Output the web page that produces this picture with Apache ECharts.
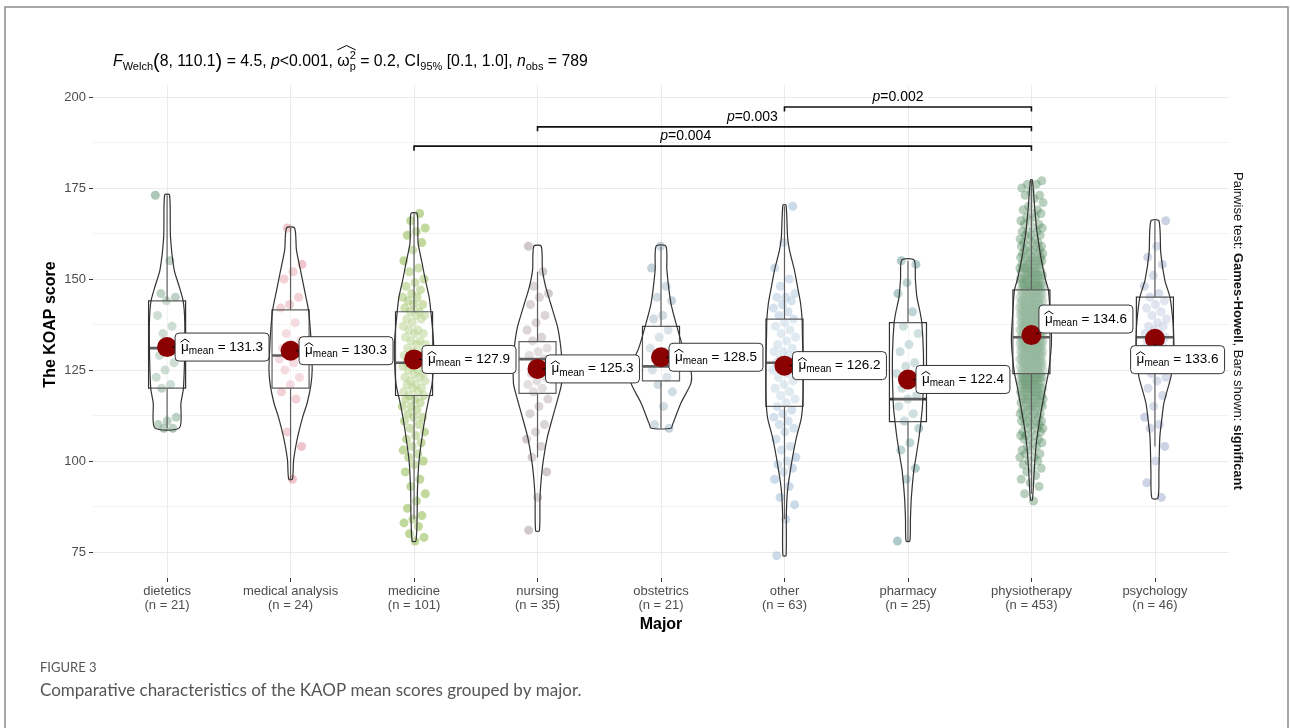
<!DOCTYPE html>
<html><head><meta charset="utf-8">
<script src="https://cdn.jsdelivr.net/npm/echarts@6/dist/echarts.min.js"></script>
<style>html,body{margin:0;padding:0;background:#fff}#c{width:1290px;height:728px}</style>
</head><body><div id="c"></div>
<script>
// ---------------- DATA ----------------
const categories = ['dietetics','medical analysis','medicine','nursing','obstetrics','other','pharmacy','physiotherapy','psychology'];
const groupN = [21,24,101,35,21,63,25,453,46];
const means = [131.3,130.3,127.9,125.3,128.5,126.2,122.4,134.6,133.6];
const q1 = [120,120,118,118.6,122,115,110.8,124,125];
const medians = [131,129,127,128,126,127,117,134,134];
const q3 = [144,141.5,141,132.8,137,139,138,147,145];
const whiskerLow = [109,95,84,101,109,84,78,91,104];
const whiskerHigh = [173,164,168,152,159,170,155,177,166];
const yTicks = [75,100,125,150,175,200];

const dieteticsScores = [173,155,146,145,144,140,137,135,132,131,129,127,125,123,121,120,112,111,110,109,109];
const medicalAnalysisScores = [164,154,152,150,145,143,142,138,135,133,132,131,130,129,128,127,125,123,121,119,117,108,104,95];
const medicineScores = [168,166,164,163,162,160,158,155,153,152,150,149,148,147,146,145,145,144,143,143,
  142,141,141,140,140,139,139,138,137,136,136,135,135,134,133,133,132,132,131,130,
  130,129,129,128,128,127,127,127,126,126,125,125,124,124,123,123,122,122,121,121,
  120,120,119,119,118,118,117,117,116,115,115,114,113,112,112,111,110,109,108,107,
  106,105,104,103,102,101,100,99,97,95,93,91,89,87,85,84,83,82,80,79,78];
const nursingScores = [159,152,148,146,145,143,140,138,136,134,133,131,130,129,128,127,126,125,124,123,122,121,120,119,117,115,113,110,108,106,104,101,97,90,81];
const obstetricsScores = [159,153,148,145,144,140,139,136,134,131,130,129,128,127,125,123,121,119,115,110,109];
const otherScores = [170,160,153,150,148,146,145,145,144,143,142,141,140,139,138,137,136,135,134,133,
  132,131,130,130,129,128,128,127,127,126,126,125,124,123,122,121,120,119,118,117,
  116,115,114,113,112,111,110,109,108,106,104,103,101,100,99,98,97,95,93,90,88,84,74];
const pharmacyScores = [155,154,149,146,141,137,135,132,130,127,126,124,122,120,118,117,115,113,111,109,105,103,98,95,78];
// physiotherapy: frequency of each integer score from 89 to 177
const physiotherapyFirstScore = 89;
const physiotherapyCounts = [1,0,1,0,1,1, 1,1,1,2,1, 2,2,2,2,2, 2,3,3,3,3, 4,4,4,4,4, 5,5,6,6,6,
  7,7,8,8,8, 9,9,10,10,10, 11,11,12,12,11, 11,11,11,11,10, 10,10,10,9,9, 9,8,8,8,7,
  7,6,6,6,5, 5,5,4,4,4, 3,3,3,3,2, 2,2,2,2,2, 1,1,1,2,1, 1,2,1];
const psychologyScores = [166,159,156,154,151,148,146,145,144,143,142,141,140,139,138,137,137,136,135,135,
  134,134,133,133,132,131,131,130,129,128,127,126,125,124,123,122,120,118,115,112,110,109,104,100,94,90];

// violin density profiles: [score, relative density]
const violinDietetics = [[109.1,0.40],[116,0.45],[120,0.53],[130,0.57],[139,0.57],[144,0.52],[148,0.39],[152.5,0.23],[161.6,0.11],[173.1,0.08]];
const violinMedicalAnalysis = [[95,0.06],[100.3,0.10],[106.6,0.23],[112,0.39],[116,0.54],[121,0.66],[125,0.70],[130,0.68],[135,0.65],[141.5,0.58],[147,0.45],[152.5,0.32],[158,0.19],[164,0.13]];
const violinMedicine = [[78,0.06],[85,0.10],[92,0.11],[100,0.16],[106.6,0.26],[112,0.36],[116,0.45],[121,0.58],[127,0.63],[133,0.63],[140.6,0.55],[145,0.49],[150,0.36],[154.4,0.26],[160,0.13],[168,0.10]];
const violinNursing = [[80.8,0.06],[90,0.08],[96,0.13],[100.3,0.19],[106.6,0.32],[112,0.49],[118.7,0.71],[121.4,0.78],[128.6,0.78],[132.8,0.73],[136.8,0.65],[143.4,0.42],[148,0.26],[152.5,0.16],[159,0.12]];
const violinObstetrics = [[109,0.32],[110.4,0.39],[116,0.65],[121.4,0.97],[125,0.97],[128.6,0.84],[131.3,0.71],[136.8,0.52],[143.4,0.32],[152.5,0.19],[159,0.16]];
const violinOther = [[74,0.05],[85,0.06],[92,0.10],[99.4,0.23],[106.6,0.39],[112,0.55],[118,0.60],[127,0.60],[135,0.58],[139,0.57],[143.4,0.52],[148,0.42],[152.5,0.32],[158,0.16],[161.6,0.10],[170.3,0.05]];
const violinPharmacy = [[78,0.06],[84,0.08],[90,0.11],[97.5,0.19],[100,0.24],[106.6,0.36],[110.8,0.42],[115,0.47],[122,0.50],[130,0.50],[137.8,0.45],[141,0.39],[145,0.29],[150,0.24],[155.2,0.20]];
const violinPhysiotherapy = [[89.3,0.03],[95.7,0.08],[100,0.11],[105,0.16],[110,0.24],[114,0.32],[120,0.45],[124.2,0.55],[130,0.63],[134,0.65],[140,0.61],[146.9,0.55],[150,0.45],[155.2,0.32],[160,0.23],[164.4,0.16],[170,0.10],[177.2,0.03]];
const violinPsychology = [[89.8,0.10],[97.5,0.13],[106.7,0.16],[112,0.23],[115.9,0.29],[120,0.42],[123.2,0.52],[128.7,0.61],[134.2,0.61],[138.7,0.58],[144.9,0.49],[149.7,0.32],[157.1,0.19],[166,0.13]];

// significance bars (pairwise Games-Howell)
const sigFrom = [2,3,5];
const sigTo = [7,7,7];
const sigY = [186.5,191.8,197.25];
const sigP = ['0.004','0.003','0.002'];

// ---------------- LAYOUT / STYLE ----------------
const FONT = '"Liberation Sans", Arial, Helvetica, sans-serif';
const pointColors = ['#5A8F6E','#E0899A','#86B43E','#A4929C','#8AA6B8','#97B8D3','#5F9595','#4A8358','#9AA8CC'];
const pointOpacity = [0.5,0.5,0.5,0.5,0.5,0.5,0.5,0.38,0.5];
const VIOLIN_HALF = 0.25, BOX_HALF = 0.15, JITTER = 0.095;
const meanLabelDx = [8,8.5,8,8,8,8,8,7.5,-24.3];
const meanLabelDy = [0,0,0,0,0,0,0,-16,21];
const sigLabelPos = [4.2,4.74,5.92];

const physiotherapyScores = [];
physiotherapyCounts.forEach((n, k) => { for (let j = 0; j < n; j++) physiotherapyScores.push(physiotherapyFirstScore + k); });
const groupScores = [dieteticsScores, medicalAnalysisScores, medicineScores, nursingScores, obstetricsScores, otherScores, pharmacyScores, physiotherapyScores, psychologyScores];
const violins = [violinDietetics, violinMedicalAnalysis, violinMedicine, violinNursing, violinObstetrics, violinOther, violinPharmacy, violinPhysiotherapy, violinPsychology];

const mctx = document.createElement('canvas').getContext('2d');
function tw(t, s, weight, style, fam) {
  mctx.font = (style || 'normal') + ' ' + (weight || 'normal') + ' ' + s + 'px ' + (fam || FONT);
  return mctx.measureText(t).width;
}
function txt(t, x, base, s, opt) {
  opt = opt || {};
  return {type:'text', x:x, y:base - 0.35 * s, silent:true,
    style:{text:t, fontSize:s, fontFamily:FONT, fontWeight:opt.b ? 'bold' : 'normal', fontStyle:opt.it ? 'italic' : 'normal',
      fill:opt.fill || '#000', align:'left', verticalAlign:'middle'}};
}
function layoutRuns(runs, x0, base, defSize, fill) {
  const els = []; let x = x0; const marks = {};
  runs.forEach(r => {
    const s = r.s || defSize;
    if (r.stack) {
      const w1 = tw(r.stack[0], s), w2 = tw(r.stack[1], s);
      els.push(txt(r.stack[0], x, base - r.up, s, {fill}));
      els.push(txt(r.stack[1], x, base + r.down, s, {fill}));
      const w = Math.max(w1, w2);
      if (r.mark) marks[r.mark] = {x0:x, x1:x + w};
      x += w;
    } else {
      const w = tw(r.t, s, r.b ? 'bold' : 'normal', r.it ? 'italic' : 'normal');
      els.push(txt(r.t, x, base + (r.dy || 0), s, {b:r.b, it:r.it, fill}));
      if (r.mark) marks[r.mark] = {x0:x, x1:x + w};
      x += w;
    }
  });
  return {els, width:x - x0, marks};
}

// scatter series (jittered points)
const scatterSeries = groupScores.map((arr, i) => ({
  type:'scatter', xAxisIndex:0, yAxisIndex:0, silent:true, z:2,
  symbol:'circle', symbolSize:9,
  itemStyle:{color:pointColors[i], opacity:pointOpacity[i]},
  data:arr.map((v, k) => [i + (((k * 0.6180339887 + i * 0.37) % 1) - 0.5) * 2 * JITTER, v])
}));

const boxSeries = {
  type:'custom', xAxisIndex:0, yAxisIndex:0, silent:true, z:3,
  data:categories.map((c, i) => [i, medians[i]]),
  renderItem:function (params, api) {
    const i = params.dataIndex;
    const tl = api.coord([i - BOX_HALF, q3[i]]), br = api.coord([i + BOX_HALF, q1[i]]);
    const m1 = api.coord([i - BOX_HALF, medians[i]]), m2 = api.coord([i + BOX_HALF, medians[i]]);
    const wt = api.coord([i, whiskerHigh[i]]), wb = api.coord([i, whiskerLow[i]]);
    const st = {stroke:'#333', lineWidth:1.2};
    return {type:'group', children:[
      {type:'line', shape:{x1:wt[0], y1:wt[1], x2:wt[0], y2:tl[1]}, style:st},
      {type:'line', shape:{x1:wb[0], y1:br[1], x2:wb[0], y2:wb[1]}, style:st},
      {type:'rect', shape:{x:tl[0], y:tl[1], width:br[0] - tl[0], height:br[1] - tl[1]}, style:{fill:'rgba(255,255,255,0.25)', stroke:'#333', lineWidth:1.2}},
      {type:'line', shape:{x1:m1[0], y1:m1[1], x2:m2[0], y2:m2[1]}, style:{stroke:'#333', lineWidth:2.6}}
    ]};
  }
};

const violinSeries = {
  type:'custom', xAxisIndex:0, yAxisIndex:0, silent:true, z:4,
  data:categories.map((c, i) => [i, medians[i]]),
  renderItem:function (params, api) {
    const i = params.dataIndex;
    const prof = violins[i];
    const right = prof.map(p => api.coord([i + p[1] * VIOLIN_HALF, p[0]]));
    const left = prof.map(p => api.coord([i - p[1] * VIOLIN_HALF, p[0]])).reverse();
    return {type:'polygon', shape:{points:right.concat(left), smooth:0.25},
      style:{fill:'rgba(255,255,255,0.22)', stroke:'#333', lineWidth:1.2}};
  }
};

const sigSeries = {
  type:'custom', xAxisIndex:0, yAxisIndex:0, silent:true, z:5,
  data:sigFrom.map((f, k) => [f, sigY[k]]),
  renderItem:function (params, api) {
    const k = params.dataIndex;
    const a = api.coord([sigFrom[k], sigY[k]]), b = api.coord([sigTo[k], sigY[k]]);
    const t = 4.5, s = 14;
    const children = [{type:'polyline', shape:{points:[[a[0], a[1] + t], [a[0], a[1]], [b[0], b[1]], [b[0], b[1] + t]]},
      style:{stroke:'#111', lineWidth:1.6, fill:null}}];
    const wp = tw('p', s, 'normal', 'italic'), wr = tw('=' + sigP[k], s);
    const cx = api.coord([sigLabelPos[k], sigY[k]])[0];
    const x = cx - (wp + wr) / 2, base = a[1] - 5;
    children.push(txt('p', x, base, s, {it:true}));
    children.push(txt('=' + sigP[k], x + wp, base, s));
    return {type:'group', children};
  }
};

const meanSeries = {
  type:'custom', xAxisIndex:0, yAxisIndex:0, silent:true, z:6,
  data:categories.map((c, i) => [i, means[i]]),
  renderItem:function (params, api) {
    const i = params.dataIndex;
    const c = api.coord([i, means[i]]);
    const mainS = 13.5, subS = 10, pad = 6, h = 28;
    const valTxt = ' = ' + means[i].toFixed(1);
    const wMu = tw('\u03bc', mainS), wSub = tw('mean', subS), wVal = tw(valTxt, mainS);
    const w = pad * 2 + wMu + wSub + wVal;
    const lx = c[0] + meanLabelDx[i], ly = c[1] + meanLabelDy[i] - h / 2;
    const base = ly + h / 2 + 4.5;
    const children = [{type:'circle', shape:{cx:c[0], cy:c[1], r:10}, style:{fill:'#8B0000'}}];
    const nx = Math.max(lx, Math.min(c[0], lx + w)), ny = Math.max(ly, Math.min(c[1], ly + h));
    const dx = nx - c[0], dy = ny - c[1], d = Math.hypot(dx, dy);
    if (d > 6.5) children.push({type:'line', shape:{x1:c[0] + dx / d * 5, y1:c[1] + dy / d * 5, x2:nx, y2:ny}, style:{stroke:'#000', lineWidth:1}});
    children.push({type:'rect', shape:{x:lx, y:ly, width:w, height:h, r:4}, style:{fill:'#fff', stroke:'#333', lineWidth:1}});
    let x = lx + pad;
    children.push(txt('\u03bc', x, base, mainS));
    children.push({type:'polyline', shape:{points:[[x - 0.5, base - 9.5], [x + wMu / 2, base - 12.5], [x + wMu + 0.5, base - 9.5]]}, style:{stroke:'#000', lineWidth:1, fill:null}});
    x += wMu;
    children.push(txt('mean', x, base + 3, subS));
    x += wSub;
    children.push(txt(valTxt, x, base, mainS));
    return {type:'group', children};
  }
};

// ---------------- GRAPHIC TEXT ----------------
const titleBase = 67;
const title = layoutRuns([
  {t:'F', it:true}, {t:'Welch', s:11, dy:4}, {t:'(', s:20, dy:2}, {t:'8, 110.1'}, {t:')', s:20, dy:2}, {t:' = 4.5, '},
  {t:'p', it:true}, {t:'<0.001, '}, {t:'\u03c9', mark:'om'}, {stack:['2', 'p'], s:11, up:7, down:4, mark:'st'},
  {t:' = 0.2, CI'}, {t:'95%', s:11, dy:4}, {t:' [0.1, 1.0], '}, {t:'n', it:true}, {t:'obs', s:11, dy:4}, {t:' = 789'}
], 113, titleBase, 15.8, '#000');
const om = title.marks.om, st = title.marks.st;
const titleHat = {type:'polyline', silent:true, shape:{points:[[om.x0, titleBase - 17], [(om.x0 + st.x1) / 2, titleBase - 21.5], [st.x1, titleBase - 17]]}, style:{stroke:'#000', lineWidth:1, fill:null}};

const sideRuns = layoutRuns([
  {t:'Pairwise test: '}, {t:'Games-Howell', b:true}, {t:', Bars shown: '}, {t:'significant', b:true}
], 0, 0.35 * 13, 13, '#111');
const sideGroup = {type:'group', x:1238, y:172, rotation:-Math.PI / 2, children:sideRuns.els};

const graphicEls = [
  {type:'rect', silent:true, shape:{x:5, y:7, width:1283, height:760}, style:{fill:null, stroke:'#8c8c8c', lineWidth:1.5}},
  ...title.els, titleHat, sideGroup,
  {type:'text', x:40, y:668, silent:true, style:{text:'FIGURE 3', fontSize:13, fontFamily:'Lato, "Open Sans", sans-serif', fill:'#555', verticalAlign:'middle'}},
  {type:'text', x:40, y:691, silent:true, style:{text:'Comparative characteristics of the KAOP mean scores grouped by major.', fontSize:17, fontFamily:'Lato, "Open Sans", sans-serif', fill:'#555', verticalAlign:'middle'}}
];

// ---------------- CHART ----------------
const chart = echarts.init(document.getElementById('c'), null, {renderer:'canvas', width:1290, height:728});
chart.setOption({
  animation:false,
  backgroundColor:'#fff',
  textStyle:{fontFamily:FONT},
  grid:[
    {left:93, right:61, top:85, bottom:150, outerBoundsMode:'none'},
    {left:93, right:61, top:97, bottom:176, outerBoundsMode:'none'},
    {left:167.1, right:135.1, top:85, bottom:150, outerBoundsMode:'none'}
  ],
  xAxis:[
    {gridIndex:0, type:'value', min:-0.6, max:8.6, show:false},
    {gridIndex:1, type:'value', min:0, max:1, show:false},
    {gridIndex:2, type:'category', boundaryGap:false,
      data:categories.map((c, i) => c + '\n(n = ' + groupN[i] + ')'),
      axisLine:{show:false},
      axisTick:{show:true, length:4, interval:0, lineStyle:{color:'#333'}},
      axisLabel:{interval:0, margin:7, fontSize:13, lineHeight:13.5, color:'#4D4D4D', fontFamily:FONT},
      splitLine:{show:true, interval:0, lineStyle:{color:'#EBEBEB', width:1}},
      name:'Major', nameLocation:'middle', nameGap:39, nameMoveOverlap:false,
      nameTextStyle:{fontWeight:'bold', fontSize:16, color:'#000', fontFamily:FONT}}
  ],
  yAxis:[
    {gridIndex:0, type:'value', min:67.857, max:203.297, show:false},
    {gridIndex:1, type:'value', min:yTicks[0], max:yTicks[yTicks.length - 1], interval:25,
      axisLine:{show:false},
      axisTick:{show:true, length:4, lineStyle:{color:'#333'}},
      axisLabel:{margin:7, fontSize:13, color:'#4D4D4D', fontFamily:FONT},
      splitLine:{show:true, lineStyle:{color:'#EBEBEB', width:1}},
      minorTick:{show:false, splitNumber:2},
      minorSplitLine:{show:true, lineStyle:{color:'#F2F2F2', width:1}},
      name:'The KOAP score', nameLocation:'middle', nameGap:34, nameRotate:90, nameMoveOverlap:false,
      nameTextStyle:{fontWeight:'bold', fontSize:16, color:'#000', fontFamily:FONT}},
    {gridIndex:2, type:'value', show:false}
  ],
  series:[...scatterSeries, boxSeries, violinSeries, sigSeries, meanSeries],
  graphic:{elements:graphicEls}
});
</script>
</body></html>
